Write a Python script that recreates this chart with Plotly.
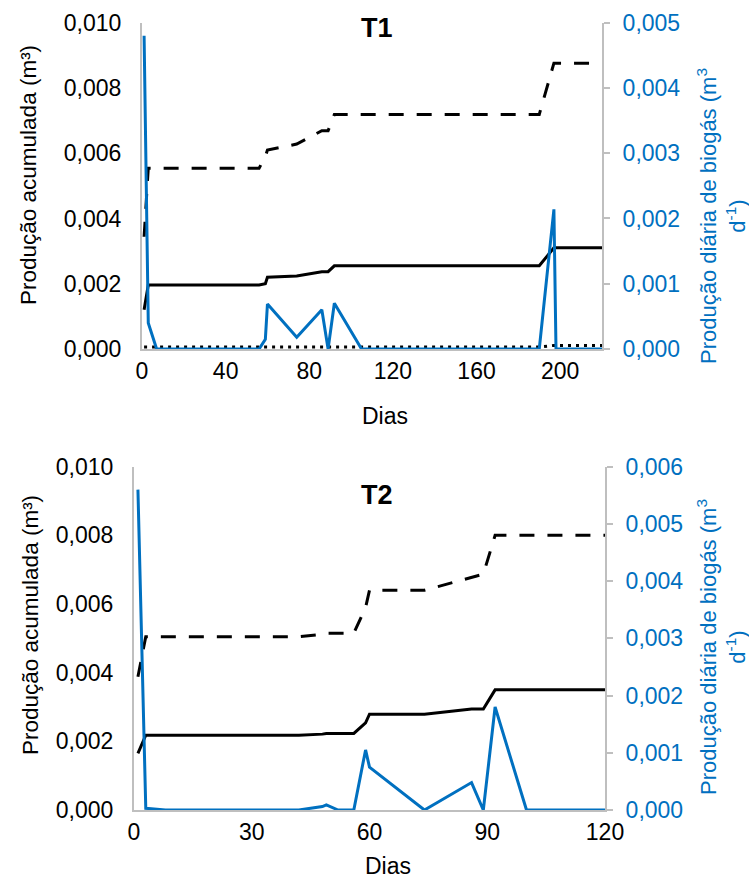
import plotly.graph_objects as go

# ---- T1 ----
t1_dias = [1, 3, 7, 56, 59, 60, 74, 86, 89, 92, 105, 190, 197, 198, 220]
t1_diaria = [0.0048, 0.0004, 0.0, 0.0, 0.00015, 0.00069, 0.00018, 0.0006, 0.0, 0.0007,
             0.0, 0.0, 0.00214, 0.0, 0.0]
t1_acum = [0.0012, 0.00196, 0.00196, 0.00196, 0.0020, 0.0022, 0.00224, 0.00237, 0.00237,
           0.00255, 0.00255, 0.00255, 0.0031, 0.0031, 0.0031]
t1_acum_tracejado = [0.00344, 0.00554, 0.00554, 0.00554, 0.0059, 0.0061, 0.00628, 0.00669,
                     0.00669, 0.00719, 0.00719, 0.00719, 0.00876, 0.00876, 0.00876]
t1_acum_pontilhado = [0.00006, 0.00006, 0.00006, 0.00006, 0.00006, 0.00006, 0.00006, 0.00006,
                      0.00006, 0.00006, 0.00006, 0.00006, 0.00011, 0.00011, 0.00011]

# ---- T2 ----
t2_dias = [1, 3, 8, 42, 48, 49, 52, 56, 59, 60, 74, 86, 89, 92, 100, 120]
t2_diaria = [0.0056, 0.00003, 0.0, 0.0, 0.00006, 0.00009, 0.0, 0.0, 0.00105, 0.00075,
             0.0, 0.00048, 0.0, 0.0018, 0.0, 0.0]
t2_acum = [0.00165, 0.00218, 0.00218, 0.00218, 0.00221, 0.00223, 0.00223, 0.00223, 0.00254,
           0.00279, 0.00279, 0.00294, 0.00294, 0.0035, 0.0035, 0.0035]
t2_acum_tracejado = [0.00388, 0.00505, 0.00505, 0.00505, 0.00512, 0.00515, 0.00515, 0.00515,
                     0.0059, 0.0064, 0.0064, 0.00678, 0.00687, 0.0080, 0.0080, 0.0080]

W, H = 749, 879
AZUL = "#0070C0"
CINZA = "#BFBFBF"
FONTE = "Liberation Sans, Arial, sans-serif"


def px_x(p):
    return p / W


def px_y(p):
    return 1 - p / H


fig = go.Figure()

preto = dict(color="black", width=3)

# T1 traces
fig.add_trace(go.Scatter(x=t1_dias, y=t1_acum_pontilhado, mode="lines", xaxis="x", yaxis="y",
                         line=dict(color="black", width=3, dash="3px,5px"), cliponaxis=False))
fig.add_trace(go.Scatter(x=t1_dias, y=t1_acum_tracejado, mode="lines", xaxis="x", yaxis="y",
                         line=dict(color="black", width=3, dash="15px,13px"), cliponaxis=False))
fig.add_trace(go.Scatter(x=t1_dias, y=t1_acum, mode="lines", xaxis="x", yaxis="y",
                         line=preto, cliponaxis=False))
fig.add_trace(go.Scatter(x=t1_dias, y=t1_diaria, mode="lines", xaxis="x", yaxis="y2",
                         line=dict(color=AZUL, width=3), cliponaxis=False))

# T2 traces
fig.add_trace(go.Scatter(x=t2_dias, y=t2_acum_tracejado, mode="lines", xaxis="x2", yaxis="y3",
                         line=dict(color="black", width=3, dash="15px,13px"), cliponaxis=False))
fig.add_trace(go.Scatter(x=t2_dias, y=t2_acum, mode="lines", xaxis="x2", yaxis="y3",
                         line=preto, cliponaxis=False))
fig.add_trace(go.Scatter(x=t2_dias, y=t2_diaria, mode="lines", xaxis="x2", yaxis="y4",
                         line=dict(color=AZUL, width=3), cliponaxis=False))

tick_font = dict(family=FONTE, size=23, color="black")
tick_font_azul = dict(family=FONTE, size=23, color=AZUL)

eixo_x = dict(showgrid=False, zeroline=False, showline=True, linecolor=CINZA, linewidth=2,
              ticks="", tickfont=tick_font, automargin=False)
eixo_esq = dict(showgrid=False, zeroline=False, showline=True, linecolor=CINZA, linewidth=2,
                ticks="", tickfont=tick_font, tickformat=".3f", ticklabelstandoff=14,
                automargin=False)
eixo_dir = dict(showgrid=False, zeroline=False, showline=True, linecolor=CINZA, linewidth=2,
                ticks="outside", ticklen=6, tickcolor=CINZA, tickwidth=2,
                tickfont=tick_font_azul, tickformat=".3f", side="right", ticklabelstandoff=8,
                automargin=False)

d1x = [px_x(142), px_x(602)]
d1y = [px_y(349), px_y(22.7)]
d2x = [px_x(134), px_x(605)]
d2y = [px_y(810), px_y(466.7)]

fig.update_layout(
    width=W, height=H,
    margin=dict(l=0, r=0, t=0, b=0),
    paper_bgcolor="white", plot_bgcolor="white",
    separators=",.",
    showlegend=False,
    font=dict(family=FONTE, color="black"),
    xaxis=dict(eixo_x, domain=d1x, anchor="y", range=[0, 220], tick0=0, dtick=40),
    yaxis=dict(eixo_esq, domain=d1y, anchor="x", range=[0, 0.010], dtick=0.002),
    yaxis2=dict(eixo_dir, overlaying="y", anchor="x", range=[0, 0.005], dtick=0.001),
    xaxis2=dict(eixo_x, domain=d2x, anchor="y3", range=[0, 120], tick0=0, dtick=30),
    yaxis3=dict(eixo_esq, domain=d2y, anchor="x2", range=[0, 0.010], dtick=0.002),
    yaxis4=dict(eixo_dir, overlaying="y3", anchor="x2", range=[0, 0.006], dtick=0.001),
)

titulo_esq = "Produção acumulada (m³)"
titulo_dir = "Produção diária de biogás (m<sup>3</sup><br>d<sup>-1</sup>)"

anot = [
    dict(text="<b>T1</b>", x=px_x(377), y=px_y(28), size=27, color="black", angle=0),
    dict(text="<b>T2</b>", x=px_x(377), y=px_y(495), size=27, color="black", angle=0),
    dict(text="Dias", x=px_x(385), y=px_y(416), size=23, color="black", angle=0),
    dict(text="Dias", x=px_x(388), y=px_y(866), size=23, color="black", angle=0),
    dict(text=titulo_esq, x=px_x(28), y=px_y(175), size=22.5, color="black", angle=-90),
    dict(text=titulo_esq, x=px_x(30), y=px_y(625), size=22.5, color="black", angle=-90),
    dict(text=titulo_dir, x=px_x(721), y=px_y(216), size=22, color=AZUL, angle=-90),
    dict(text=titulo_dir, x=px_x(721), y=px_y(647), size=22, color=AZUL, angle=-90),
]
for a in anot:
    fig.add_annotation(text=a["text"], x=a["x"], y=a["y"], xref="paper", yref="paper",
                       xanchor="center", yanchor="middle", showarrow=False,
                       textangle=a["angle"],
                       font=dict(family=FONTE, size=a["size"], color=a["color"]))

fig.write_html("out.html")
